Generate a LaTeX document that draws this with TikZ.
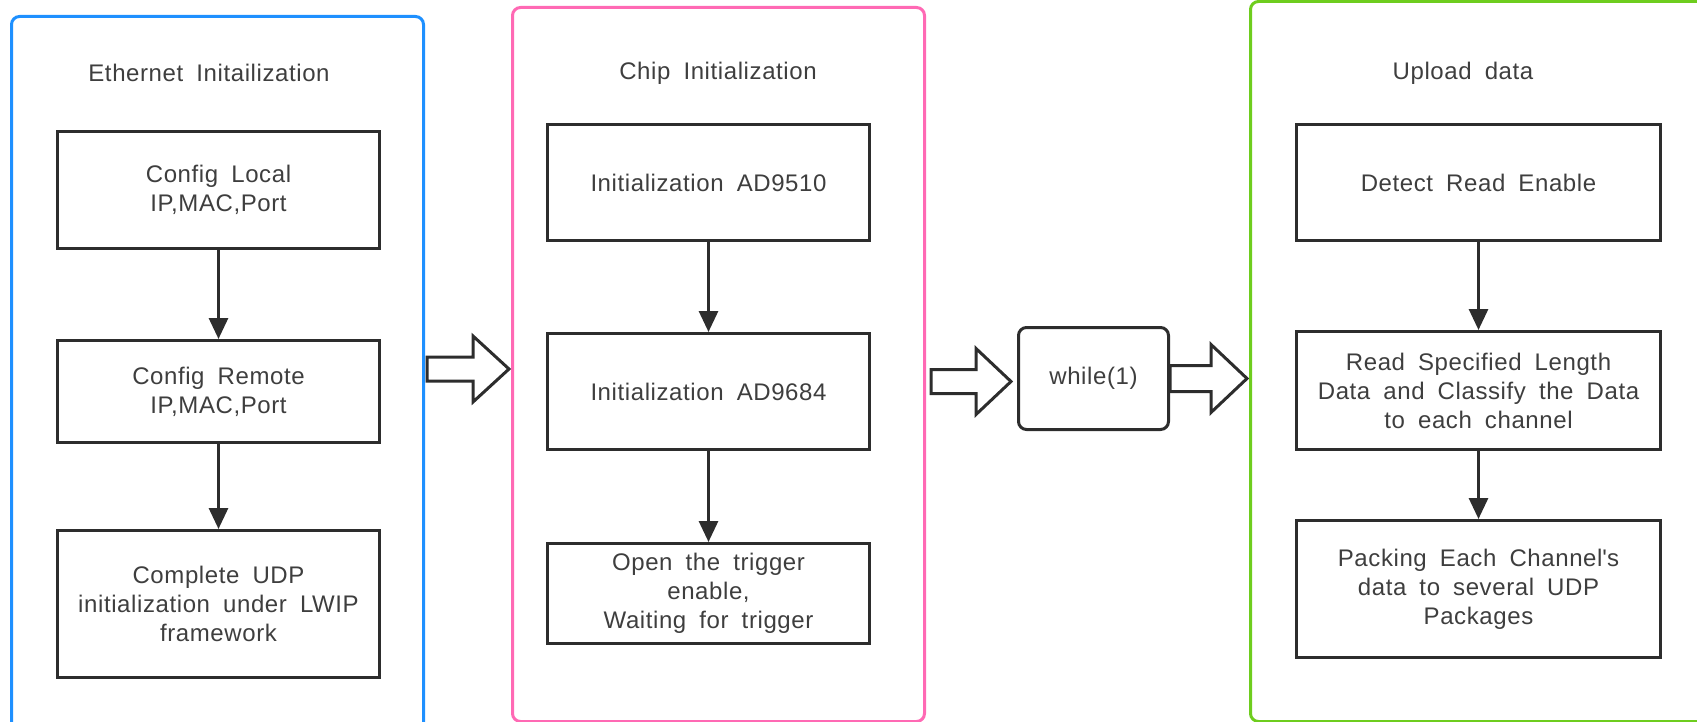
\documentclass[tikz,border=0pt]{standalone}
\usepackage{fontspec}
\setmainfont{Liberation Sans}[LetterSpace=2.5,WordSpace=1.8]
\usetikzlibrary{arrows.meta,calc}

\definecolor{panelblue}{RGB}{30,144,255}
\definecolor{panelpink}{RGB}{255,105,180}
\definecolor{panelgreen}{RGB}{110,205,30}
\definecolor{ink}{RGB}{45,45,45}
\definecolor{txt}{RGB}{62,62,62}

% hollow block arrow: start, end, shaft half-height, head half-height, head length
\newcommand\blockarrow[5]{%
  \draw[barrow] let \p1=(#1), \p2=(#2) in
    (\x1,\y1+#3) -- (\x2-#5,\y1+#3) -- (\x2-#5,\y1+#4) -- (\x2,\y1)
    -- (\x2-#5,\y1-#4) -- (\x2-#5,\y1-#3) -- (\x1,\y1-#3) -- cycle;}

\begin{document}
\begin{tikzpicture}[x=1pt,y=-1pt,
  font=\fontsize{24}{29}\selectfont,
  panel/.style={draw=#1, line width=3pt, rounded corners=8pt, anchor=north west,
    inner sep=0pt},
  stepbox/.style={draw=ink, line width=3pt, anchor=north west, inner sep=0pt,
    text=txt, align=center},
  title/.style={text=txt},
  flow/.style={draw=ink, line width=3pt, -{Triangle[width=19pt,length=21pt]}},
  barrow/.style={draw=ink, line width=3pt, fill=white, line join=miter},
]
\useasboundingbox (0,0) rectangle (1697,722);
\clip (0,0) rectangle (1697,722);

% group frames
\node[panel=panelblue,  minimum width=412pt, minimum height=760pt] (eth)    at (10,15) {};
\node[panel=panelpink,  minimum width=412pt, minimum height=714pt] (chip)   at (511,6) {};
\node[panel=panelgreen, minimum width=480pt, minimum height=720pt] (upload) at (1249,0) {};

% group titles
\node[title] (ethT)  at (209,73)  {Ethernet Initailization};
\node[title] (chipT) at (718,73)  {Chip Initialization};
\node[title] (upT)   at (1463,73) {Upload data};

% Ethernet steps
\node[stepbox, minimum width=322pt, minimum height=117pt] (e1) at (56,130)
  {Config Local\\IP,MAC,Port};
\node[stepbox, minimum width=322pt, minimum height=102pt] (e2) at (56,339)
  {Config Remote\\IP,MAC,Port};
\node[stepbox, minimum width=322pt, minimum height=147pt] (e3) at (56,529)
  {Complete UDP\\initialization under LWIP\\framework};

% chip steps
\node[stepbox, minimum width=322pt, minimum height=116pt] (c1) at (546,123)
  {Initialization AD9510};
\node[stepbox, minimum width=322pt, minimum height=116pt] (c2) at (546,332)
  {Initialization AD9684};
\node[stepbox, minimum width=322pt, minimum height=100pt] (c3) at (546,542)
  {Open the trigger\\enable,\\Waiting for trigger};

% upload steps
\node[stepbox, minimum width=364pt, minimum height=116pt] (u1) at (1295,123)
  {Detect Read Enable};
\node[stepbox, minimum width=364pt, minimum height=118pt] (u2) at (1295,330)
  {Read Specified Length\\Data and Classify the Data\\to each channel};
\node[stepbox, minimum width=364pt, minimum height=137pt] (u3) at (1295,519)
  {Packing Each Channel\textquotesingle s\\data to several UDP\\Packages};

% main loop
\node[stepbox, rounded corners=8pt, minimum width=150pt, minimum height=102pt]
  (loop) at (1017,326) {while(1)};

% step connectors
\draw[flow] (e1) -- (e2);
\draw[flow] (e2) -- (e3);
\draw[flow] (c1) -- (c2);
\draw[flow] (c2) -- (c3);
\draw[flow] (u1) -- (u2);
\draw[flow] (u2) -- (u3);

% block arrows between the groups
\coordinate (aS) at ([xshift=2pt]eth.east |- 0,369);
\coordinate (aE) at ([xshift=-2pt]chip.west |- 0,369);
\coordinate (bS) at ([xshift=5pt,yshift=-3pt]chip.east |- loop.west);
\coordinate (bE) at ([xshift=-6pt,yshift=-3pt]loop.west);
\coordinate (cS) at (loop.east);
\coordinate (cE) at ([xshift=-2pt]upload.west |- loop.east);
\blockarrow{aS}{aE}{12pt}{33pt}{36pt}
\blockarrow{bS}{bE}{12pt}{33pt}{35pt}
\blockarrow{cS}{cE}{13pt}{34pt}{36pt}
\end{tikzpicture}
\end{document}
